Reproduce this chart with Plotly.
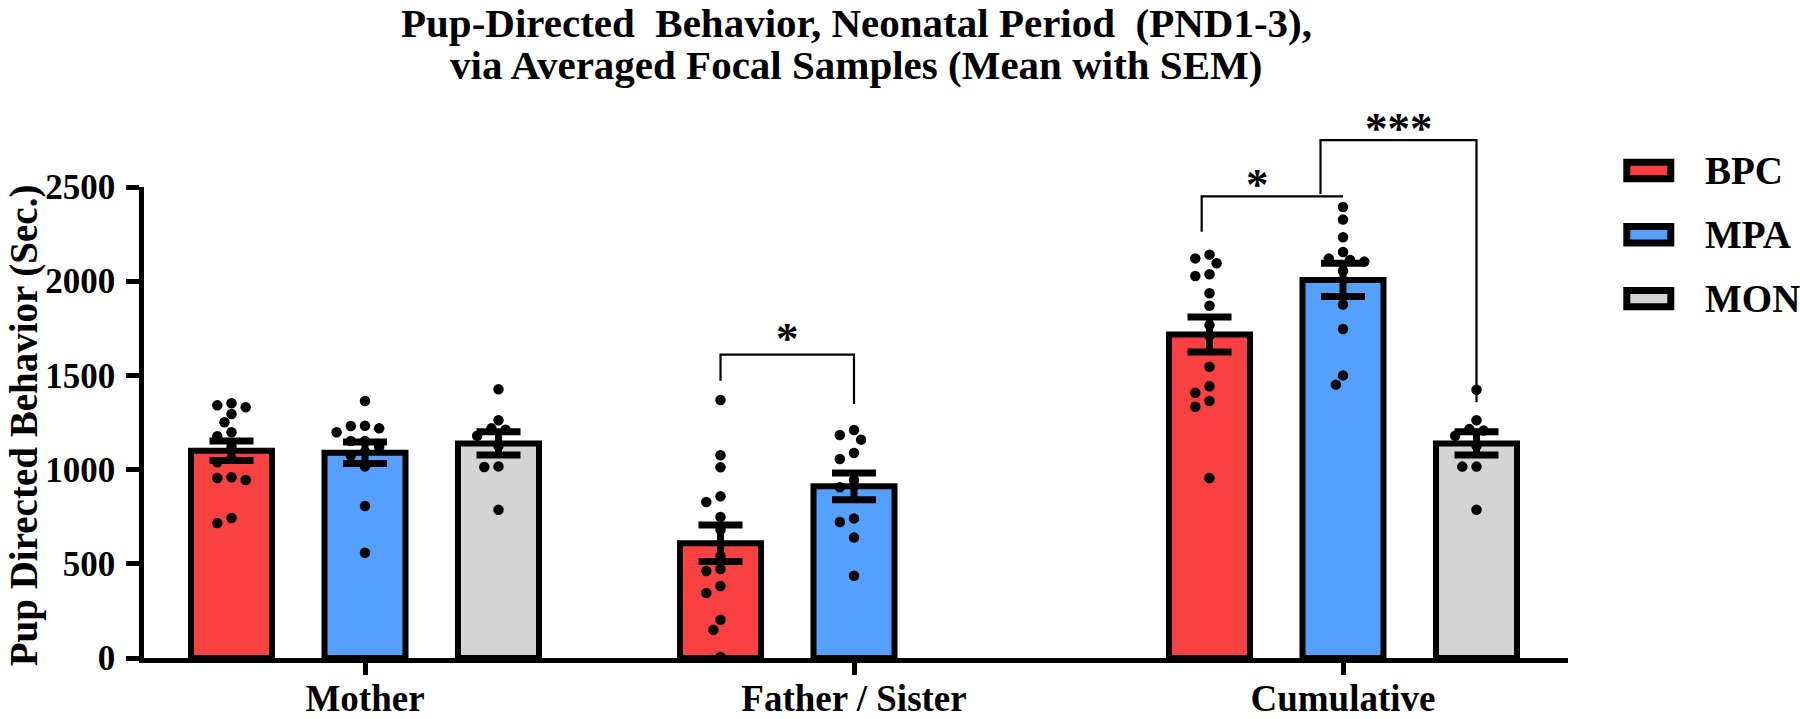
import plotly.graph_objects as go

# ---------------- data ----------------
categories = ["Mother", "Father / Sister", "Cumulative"]
groups = ["BPC", "MPA", "MON"]
colors = {"BPC": "#F94141", "MPA": "#55A0FD", "MON": "#D4D4D4"}

# group means (sec) and SEM; None = no bar in that category
mean_bpc = [1100, 609, 1717]
mean_mpa = [1090, 911, 2007]
mean_mon = [1139, None, 1139]
sem_bpc = [52, 97, 93]
sem_mpa = [57, 71, 88]
sem_mon = [62, None, 62]

# individual animals
mother_bpc = [1352, 1331, 1341, 1295, 1251, 1198, 1177, 1120, 1060, 1039, 955, 945, 959, 716, 743]
mother_mpa = [1364, 1231, 1198, 1219, 1233, 1152, 1152, 1120, 1095, 1075, 1017, 807, 559]
mother_mon = [1426, 1262, 1219, 1212, 1180, 1127, 1017, 1014, 787]
father_bpc = [1369, 1076, 1012, 858, 828, 748, 681, 540, 472, 462, 382, 345, 203, 150, 5]
father_mpa = [1210, 1184, 1159, 1088, 1056, 945, 906, 741, 722, 639, 437]
cum_bpc = [2141, 2121, 2095, 2028, 2037, 1936, 1870, 1767, 1711, 1546, 1442, 1408, 1364, 1334, 955]
cum_mpa = [2394, 2327, 2233, 2155, 2120, 2113, 2104, 2056, 1876, 1746, 1500, 1451]
cum_mon = [1424, 1262, 1215, 1207, 1180, 1127, 1016, 1016, 787]

yticks = [0, 500, 1000, 1500, 2000, 2500]
YMAX = 2500

# significance brackets: category, left/right leg positions (category units),
# top level, left-leg end, right-leg end (sec), label, label position
brackets = [
    dict(cat=1, xl=-0.273, xr=0.0, top=1610, yl=1472, yr=1348, text="*", tx=-0.135, ty=1737),
    dict(cat=2, xl=-0.289, xr=0.0, top=2450, yl=2263, yr=None, text="*", tx=-0.174, ty=2551),
    dict(cat=2, xl=-0.046, xr=0.273, top=2749, yl=2463, yr=1357, text="***", tx=0.114, ty=2852),
]

title1 = "Pup-Directed  Behavior, Neonatal Period  (PND1-3),"
title2 = "via Averaged Focal Samples (Mean with SEM)"
ytitle = "Pup Directed Behavior (Sec.)"

# ---------------- layout geometry ----------------
FW, FH = 1800, 719
L, R, T, B = 144, 232, 186.5, 61
PW, PH = FW - L - R, FH - T - B
CAT_PX = 489.0                       # pixels per category
X0 = -(365 - L) / CAT_PX
X1 = X0 + PW / CAT_PX
SLOT = 133.5 / CAT_PX                # distance between grouped bars
BAR_W = 81 / CAT_PX
PX_PER_UNIT = PH / YMAX
FONT = "Liberation Serif, Times New Roman, serif"


def px_x(p):
    return (p - L) / PW


def px_y(p):
    return (FH - B - p) / PH


def dx(x):
    return (x - X0) / (X1 - X0)


def dy(v):
    return v / YMAX


def swarm(values, dot=10.5, step=7.1):
    """simple beeswarm: offsets in pixels"""
    placed = []
    offs = [0.0] * len(values)
    order = sorted(range(len(values)), key=lambda i: -values[i])
    cands = [0.0]
    for k in range(1, 12):
        cands += [-k * step, k * step]
    for i in order:
        y = values[i] * PX_PER_UNIT
        for c in cands:
            if all((c - ox) ** 2 + (y - oy) ** 2 >= dot ** 2 for ox, oy in placed):
                offs[i] = c
                placed.append((c, y))
                break
    return offs


fig = go.Figure()

means = {"BPC": mean_bpc, "MPA": mean_mpa, "MON": mean_mon}
sems = {"BPC": sem_bpc, "MPA": sem_mpa, "MON": sem_mon}
points = {
    "BPC": [mother_bpc, father_bpc, cum_bpc],
    "MPA": [mother_mpa, father_mpa, cum_mpa],
    "MON": [mother_mon, None, cum_mon],
}

# bars
for k, g in enumerate(groups):
    xs, ys = [], []
    for c in range(3):
        if means[g][c] is not None:
            xs.append(c + (k - 1) * SLOT)
            ys.append(means[g][c])
    fig.add_trace(go.Bar(
        x=xs, y=ys, width=BAR_W, name=g, showlegend=False,
        marker=dict(color=colors[g], line=dict(color="black", width=6)),
    ))

# dots
for k, g in enumerate(groups):
    for c in range(3):
        vals = points[g][c]
        if vals is None:
            continue
        offs = swarm(vals)
        center = c + (k - 1) * SLOT
        fig.add_trace(go.Scatter(
            x=[center + o / CAT_PX for o in offs], y=vals, mode="markers",
            marker=dict(color="black", size=10.5), showlegend=False,
            cliponaxis=False, hoverinfo="y",
        ))

# error bars (SEM) on top
for k, g in enumerate(groups):
    xs, ys, es = [], [], []
    for c in range(3):
        if means[g][c] is not None:
            xs.append(c + (k - 1) * SLOT)
            ys.append(means[g][c])
            es.append(sems[g][c])
    fig.add_trace(go.Scatter(
        x=xs, y=ys, mode="markers", marker=dict(size=1, opacity=0),
        error_y=dict(type="data", array=es, visible=True, color="black",
                     thickness=7, width=22),
        showlegend=False, cliponaxis=False, hoverinfo="skip",
    ))

shapes = []
annotations = []

# significance brackets
for b in brackets:
    xl = dx(b["cat"] + b["xl"])
    xr = dx(b["cat"] + b["xr"])
    pts = [(xl, dy(b["yl"])), (xl, dy(b["top"])), (xr, dy(b["top"]))]
    if b["yr"] is not None:
        pts.append((xr, dy(b["yr"])))
    path = "M " + " L ".join(f"{a},{c}" for a, c in pts)
    shapes.append(dict(type="path", path=path, xref="paper", yref="paper",
                       line=dict(color="black", width=2.2)))
    annotations.append(dict(
        x=dx(b["cat"] + b["tx"]), y=dy(b["ty"]), xref="paper", yref="paper",
        text=b["text"], showarrow=False, xanchor="center", yanchor="middle",
        yshift=-7, font=dict(family=FONT, size=45, color="black", weight="bold")))

# title (two lines)
annotations.append(dict(x=px_x(856), y=px_y(22), xref="paper", yref="paper",
                        text=title1, showarrow=False, xanchor="center", yanchor="middle",
                        font=dict(family=FONT, size=41, color="black", weight="bold")))
annotations.append(dict(x=px_x(856), y=px_y(64), xref="paper", yref="paper",
                        text=title2, showarrow=False, xanchor="center", yanchor="middle",
                        font=dict(family=FONT, size=41, color="black", weight="bold")))

# y-axis title
annotations.append(dict(x=px_x(24), y=px_y(425), xref="paper", yref="paper",
                        text=ytitle, showarrow=False, textangle=-90,
                        xanchor="center", yanchor="middle",
                        font=dict(family=FONT, size=39, color="black", weight="bold")))

# legend (custom, large swatches)
legend_rows = [170, 234.3, 298.3]
for g, yc in zip(groups, legend_rows):
    shapes.append(dict(type="rect", xref="paper", yref="paper",
                       x0=px_x(1626.8), x1=px_x(1670.8),
                       y0=px_y(yc - 8.2), y1=px_y(yc + 8.2),
                       fillcolor=colors[g], line=dict(color="black", width=7)))
    annotations.append(dict(x=px_x(1703), y=px_y(yc), xref="paper", yref="paper",
                            text=g, showarrow=False, xanchor="left", yanchor="middle",
                            font=dict(family=FONT, size=39, color="black", weight="bold")))

fig.update_layout(
    width=FW, height=FH, autosize=False,
    margin=dict(l=L, r=R, t=T, b=B, pad=0, autoexpand=False),
    paper_bgcolor="white", plot_bgcolor="white",
    showlegend=False,
    shapes=shapes, annotations=annotations,
    xaxis=dict(range=[X0, X1], tickvals=[0, 1, 2], ticktext=categories,
               automargin=False,
               showgrid=False, zeroline=False, showline=True, linecolor="black",
               linewidth=4.5, ticks="outside", ticklen=12, tickwidth=4.5,
               tickcolor="black", ticklabelstandoff=-8,
               tickfont=dict(family=FONT, size=37, color="black", weight="bold")),
    yaxis=dict(range=[0, YMAX], tickvals=yticks, ticktext=[str(t) for t in yticks],
               automargin=False,
               showgrid=False, zeroline=False, showline=True, linecolor="black",
               linewidth=4.5, ticks="outside", ticklen=13, tickwidth=4.5,
               tickcolor="black", ticklabelstandoff=4,
               tickfont=dict(family=FONT, size=35, color="black", weight="bold")),
)

fig.write_html(
    "out.html",
    config={"displayModeBar": False},
    post_script="document.documentElement.style.margin='0';"
                "document.body.style.margin='0';"
                "document.body.style.overflow='hidden';",
)
